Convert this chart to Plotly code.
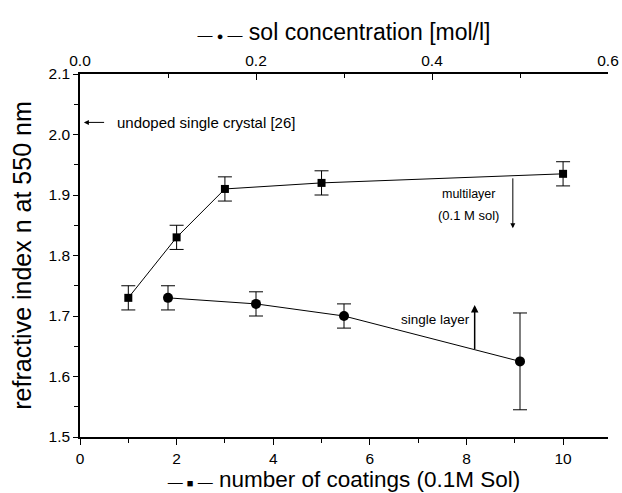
import plotly.graph_objects as go

# Multilayer (bottom axis: number of coatings)
coatings = [1, 2, 3, 5, 10]
n_multi = [1.73, 1.83, 1.91, 1.92, 1.935]
err_multi = [0.02, 0.02, 0.02, 0.02, 0.02]

# Single layer (top axis: sol concentration)
conc = [0.1, 0.2, 0.3, 0.5]
n_single = [1.73, 1.72, 1.70, 1.625]
err_single = [0.02, 0.02, 0.02, 0.08]

x_ticks_bottom = [0, 2, 4, 6, 8, 10]
x_ticks_top = [0.0, 0.2, 0.4, 0.6]
y_ticks = [1.5, 1.6, 1.7, 1.8, 1.9, 2.0, 2.1]

FONT = "Liberation Sans, Arial, sans-serif"

def sym(ch):
    return ("<span style='font-size:15px'>— </span>"
            f"<span style='font-size:11px'>{ch}</span>"
            "<span style='font-size:15px'> —</span> ")

fig = go.Figure()
fig.add_trace(go.Scatter(
    x=coatings, y=n_multi, mode="lines+markers",
    line=dict(color="black", width=1),
    marker=dict(symbol="square", size=8, color="black"),
    error_y=dict(type="data", array=err_multi, color="black", thickness=1, width=7),
    xaxis="x", yaxis="y", showlegend=False))
fig.add_trace(go.Scatter(
    x=conc, y=n_single, mode="lines+markers",
    line=dict(color="black", width=1),
    marker=dict(symbol="circle", size=10, color="black"),
    error_y=dict(type="data", array=err_single, color="black", thickness=1, width=7),
    xaxis="x2", yaxis="y", showlegend=False))

axis_common = dict(showgrid=False, zeroline=False, linecolor="black", linewidth=1.5,
                   automargin=False, tickcolor="black",
                   tickfont=dict(family=FONT, size=15.5, color="black"))

fig.update_layout(
    width=622, height=493,
    margin=dict(l=80, r=14, t=74, b=56, autoexpand=False),
    paper_bgcolor="white", plot_bgcolor="white",
    font=dict(family=FONT, color="black"),
    xaxis=dict(range=[0, 10.93], tickvals=x_ticks_bottom, ticks="outside", ticklen=6,
               minor=dict(dtick=1, ticks="outside", ticklen=4, tickcolor="black"),
               showline=True, ticklabelstandoff=1,
               title=dict(text=sym("■") + "number of coatings (0.1M Sol)",
                          font=dict(family=FONT, size=22.5), standoff=2),
               **axis_common),
    xaxis2=dict(range=[0, 0.6], tickvals=x_ticks_top, tickformat=".1f", overlaying="x",
                side="top", ticks="inside", ticklen=6, showline=True, ticklabelstandoff=0,
                minor=dict(dtick=0.1, ticks="inside", ticklen=4, tickcolor="black"),
                title=dict(text=sym("●") + "sol concentration [mol/l]",
                           font=dict(family=FONT, size=23), standoff=5),
                **axis_common),
    yaxis=dict(range=[1.5, 2.1], tickvals=y_ticks, tickformat=".1f", ticks="outside",
               ticklen=5, showline=True,
               minor=dict(dtick=0.05, ticks="outside", ticklen=4, tickcolor="black"),
               title=dict(text="refractive index n at 550 nm",
                          font=dict(family=FONT, size=25), standoff=10),
               **axis_common),
    yaxis2=dict(range=[1.5, 2.1], overlaying="y", side="right", showline=True,
                tickvals=y_ticks, ticks="inside", ticklen=5, showticklabels=False,
                minor=dict(dtick=0.05, ticks="inside", ticklen=4, tickcolor="black"),
                **axis_common),
)

fig.add_annotation(x=0.08, y=2.02, ax=0.53, ay=2.02, xref="x", yref="y", axref="x", ayref="y",
                   showarrow=True, arrowhead=2, arrowsize=1, arrowwidth=1, arrowcolor="black", text="")
fig.add_annotation(x=0.72, y=2.02, xref="x", yref="y", text="undoped single crystal [26]",
                   showarrow=False, xanchor="left", font=dict(family=FONT, size=15, color="black"))

fig.add_annotation(x=8.96, y=1.845, ax=8.96, ay=1.93, xref="x", yref="y", axref="x", ayref="y",
                   showarrow=True, arrowhead=2, arrowsize=1, arrowwidth=1, arrowcolor="black", text="")
fig.add_annotation(x=7.45, y=1.901, xref="x", yref="y", text="multilayer",
                   showarrow=False, xanchor="left", font=dict(family=FONT, size=12.5, color="black"))
fig.add_annotation(x=7.37, y=1.866, xref="x", yref="y", text="(0.1 M sol)",
                   showarrow=False, xanchor="left", font=dict(family=FONT, size=13, color="black"))

fig.add_annotation(x=8.17, y=1.718, ax=8.17, ay=1.643, xref="x", yref="y", axref="x", ayref="y",
                   showarrow=True, arrowhead=2, arrowsize=1, arrowwidth=1.5, arrowcolor="black", text="")
fig.add_annotation(x=6.6, y=1.695, xref="x", yref="y", text="single layer",
                   showarrow=False, xanchor="left", font=dict(family=FONT, size=13.5, color="black"))

fig.write_html("out.html")
